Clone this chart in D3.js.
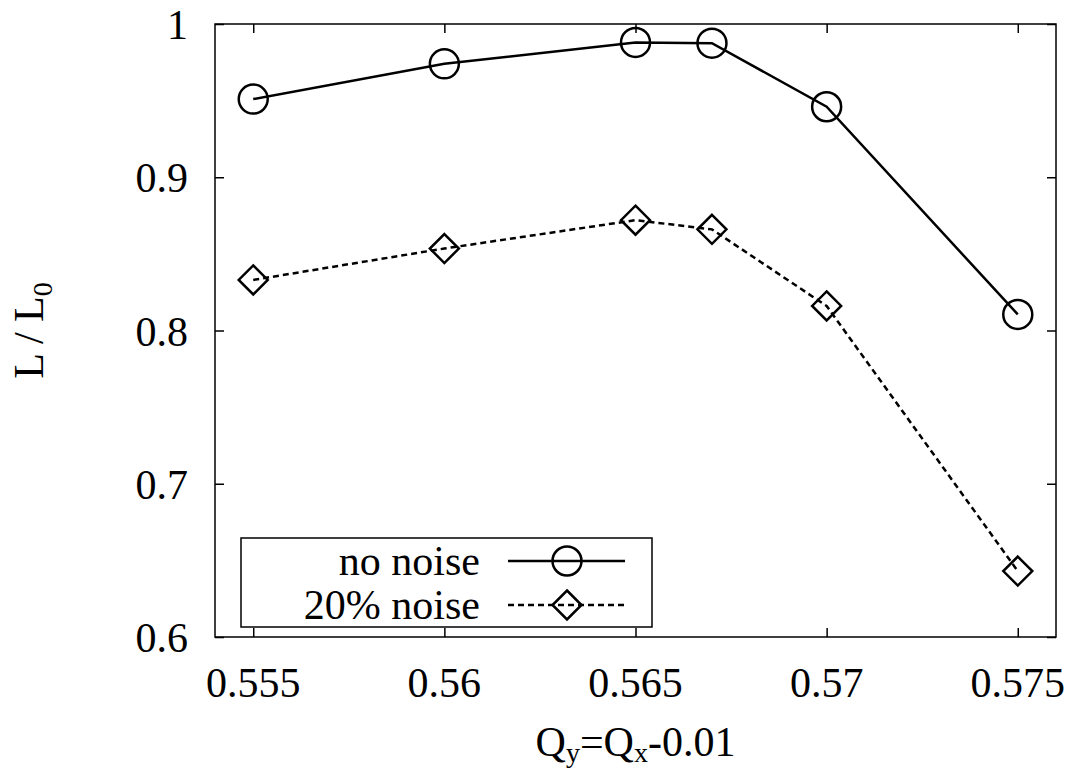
<!DOCTYPE html>
<html>
<head>
<meta charset="utf-8">
<script src="https://cdn.jsdelivr.net/npm/d3@7/dist/d3.min.js"></script>
<style>
  html, body { margin: 0; padding: 0; background: #fff; }
  svg { display: block; }
  svg text { font-family: "Liberation Serif", "Times New Roman", Tinos, Times, "DejaVu Serif", "Noto Serif", serif; fill: #000; }
</style>
</head>
<body>
<svg id="chart" width="1073" height="770"></svg>
<script>
// ---- data ----
const qValues = [0.555, 0.56, 0.565, 0.567, 0.57, 0.575];
const noNoise = [0.951, 0.974, 0.988, 0.9875, 0.946, 0.8105];
const noise20 = [0.833, 0.8535, 0.872, 0.866, 0.816, 0.643];
const xTicks = [0.555, 0.56, 0.565, 0.57, 0.575];
const yTicks = [0.6, 0.7, 0.8, 0.9, 1.0];
const xTickLabels = ["0.555", "0.56", "0.565", "0.57", "0.575"];
const yTickLabels = ["0.6", "0.7", "0.8", "0.9", "1"];
const seriesNames = ["no noise", "20% noise"];

// ---- layout ----
const FONT = '"Liberation Serif", "Times New Roman", Tinos, Times, "DejaVu Serif", serif';
const svg = d3.select("#chart");
const L = 215, R = 1056, T = 24, B = 637;
const x = d3.scaleLinear().domain([0.554, 0.576]).range([L, R]);
const y = d3.scaleLinear().domain([0.6, 1.0]).range([B, T]);
const FS = 42;

// frame
svg.append("rect").attr("x", L).attr("y", T).attr("width", R - L).attr("height", B - T)
  .attr("fill", "none").attr("stroke", "#000").attr("stroke-width", 1.5);

// ticks (inward, mirrored) via axes
const tickLen = 9;
const gxB = svg.append("g").attr("transform", `translate(0,${B})`)
  .call(d3.axisTop(x).tickValues(xTicks).tickSize(tickLen).tickFormat(""));
const gxT = svg.append("g").attr("transform", `translate(0,${T})`)
  .call(d3.axisBottom(x).tickValues(xTicks).tickSize(tickLen).tickFormat(""));
const gyL = svg.append("g").attr("transform", `translate(${L},0)`)
  .call(d3.axisRight(y).tickValues(yTicks).tickSize(tickLen).tickFormat(""));
const gyR = svg.append("g").attr("transform", `translate(${R},0)`)
  .call(d3.axisLeft(y).tickValues(yTicks).tickSize(tickLen).tickFormat(""));
[gxB, gxT, gyL, gyR].forEach(g => {
  g.select(".domain").remove();
  g.selectAll("line").attr("stroke", "#000").attr("stroke-width", 1.5);
});

// tick labels
svg.append("g").selectAll("text").data(xTicks).join("text")
  .attr("x", d => x(d)).attr("y", B + 60)
  .attr("text-anchor", "middle").attr("font-size", FS).attr("font-family", FONT)
  .text((d, i) => xTickLabels[i]);
svg.append("g").selectAll("text").data(yTicks).join("text")
  .attr("x", L - 27).attr("y", d => y(d) + 15)
  .attr("text-anchor", "end").attr("font-size", FS).attr("font-family", FONT)
  .text((d, i) => yTickLabels[i]);

// axis titles
const xt = svg.append("text").attr("x", (L + R) / 2).attr("y", 756)
  .attr("text-anchor", "middle").attr("font-size", FS).attr("font-family", FONT);
xt.append("tspan").text("Q");
xt.append("tspan").attr("font-size", 28).attr("dy", 6).text("y");
xt.append("tspan").attr("dy", -6).text("=Q");
xt.append("tspan").attr("font-size", 28).attr("dy", 6).text("x");
xt.append("tspan").attr("dy", -6).text("-0.01");

const yt = svg.append("text")
  .attr("transform", `translate(43,${(T + B) / 2}) rotate(-90)`)
  .attr("text-anchor", "middle").attr("font-size", FS).attr("font-family", FONT);
yt.append("tspan").text("L / L");
yt.append("tspan").attr("font-size", 28).attr("dy", 9).text("0");

// series
const line = d3.line().x(d => x(d[0])).y(d => y(d[1]));
const s1 = qValues.map((q, i) => [q, noNoise[i]]);
const s2 = qValues.map((q, i) => [q, noise20[i]]);

svg.append("path").datum(s1).attr("d", line)
  .attr("fill", "none").attr("stroke", "#000").attr("stroke-width", 2.5);
svg.append("path").datum(s2).attr("d", line)
  .attr("fill", "none").attr("stroke", "#000").attr("stroke-width", 2.5)
  .attr("stroke-dasharray", "6,4");

const R_C = 14.5, R_D = 14.5;
const diamond = (cx, cy, r) => `M${cx},${cy - r}L${cx + r},${cy}L${cx},${cy + r}L${cx - r},${cy}Z`;

svg.append("g").selectAll("circle").data(s1).join("circle")
  .attr("cx", d => x(d[0])).attr("cy", d => y(d[1])).attr("r", R_C)
  .attr("fill", "none").attr("stroke", "#000").attr("stroke-width", 2.5);
svg.append("g").selectAll("path").data(s2).join("path")
  .attr("d", d => diamond(x(d[0]), y(d[1]), R_D))
  .attr("fill", "none").attr("stroke", "#000").attr("stroke-width", 2.5);

// legend
const lg = svg.append("g");
lg.append("rect").attr("x", 241).attr("y", 538).attr("width", 411).attr("height", 89)
  .attr("fill", "#fff").attr("stroke", "#000").attr("stroke-width", 1.5);
const rowsY = [561, 605];
lg.selectAll("text").data(seriesNames).join("text")
  .attr("x", 480).attr("y", (d, i) => rowsY[i] + 14)
  .attr("text-anchor", "end").attr("font-size", FS).attr("font-family", FONT).text(d => d);
lg.append("line").attr("x1", 508).attr("x2", 625).attr("y1", rowsY[0]).attr("y2", rowsY[0])
  .attr("stroke", "#000").attr("stroke-width", 2.5);
lg.append("circle").attr("cx", 567).attr("cy", rowsY[0]).attr("r", R_C)
  .attr("fill", "none").attr("stroke", "#000").attr("stroke-width", 2.5);
lg.append("line").attr("x1", 508).attr("x2", 625).attr("y1", rowsY[1]).attr("y2", rowsY[1])
  .attr("stroke", "#000").attr("stroke-width", 2.5).attr("stroke-dasharray", "6,4");
lg.append("path").attr("d", diamond(567, rowsY[1], R_D))
  .attr("fill", "none").attr("stroke", "#000").attr("stroke-width", 2.5);
</script>
</body>
</html>
